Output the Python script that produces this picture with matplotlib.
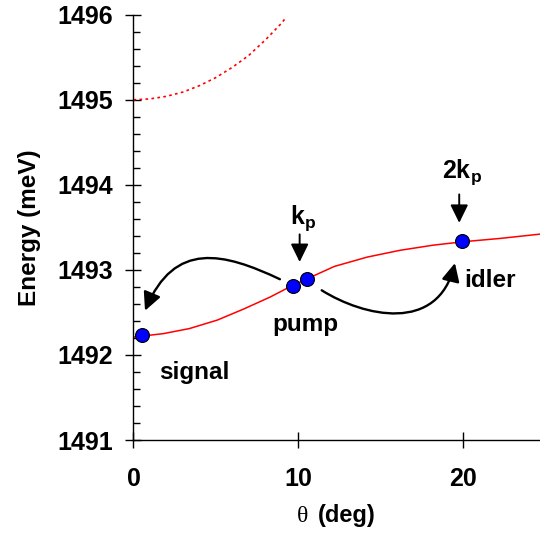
import matplotlib
matplotlib.use('Agg')
import matplotlib.pyplot as plt
from matplotlib.patches import FancyArrowPatch
from matplotlib.path import Path
from matplotlib.ticker import MultipleLocator

plt.rcParams['font.family'] = ['Liberation Sans', 'DejaVu Sans']
plt.rcParams['font.weight'] = 'bold'
plt.rcParams['mathtext.fontset'] = 'custom'
plt.rcParams['mathtext.bf'] = 'Liberation Sans:bold'
plt.rcParams['mathtext.rm'] = 'Liberation Sans:bold'

# lower branch (solid red)
theta_lp = [0, 1.8, 3.4, 5.1, 6.7, 8.3, 9.3, 10.5, 12.2, 14.2, 16.2, 18.2, 20, 22.3, 24.7]
energy_lp = [1492.21, 1492.25, 1492.31, 1492.41, 1492.54, 1492.68, 1492.78, 1492.89,
             1493.04, 1493.15, 1493.23, 1493.29, 1493.33, 1493.37, 1493.42]

# upper branch (dotted red)
theta_up = [0, 1, 2, 3, 4, 5, 6, 7, 8, 9, 9.2]
energy_up = [1495.0, 1495.01, 1495.04, 1495.09, 1495.165, 1495.26, 1495.38, 1495.52,
             1495.70, 1495.90, 1495.95]

# signal, pump (x2), idler
theta_pts = [0.53, 9.72, 10.53, 19.95]
energy_pts = [1492.23, 1492.81, 1492.89, 1493.34]

fig = plt.figure(figsize=(5.4, 5.36), dpi=100)
ax = fig.add_axes([0.2472, 0.1791, 0.7528, 0.7935])

ax.plot(theta_up, energy_up, color='red', lw=1.2, linestyle=(0, (1.6, 2.0)))
ax.plot(theta_lp, energy_lp, color='red', lw=1.1)
ax.plot(theta_pts, energy_pts, 'o', color='blue', mec='black', mew=0.8, ms=10, zorder=5)

ax.set_xlim(0, 24.71)
ax.set_ylim(1491, 1496)
ax.set_xticks([0, 10, 20])
ax.set_yticks([1491, 1492, 1493, 1494, 1495, 1496])
ax.yaxis.set_minor_locator(MultipleLocator(0.2))
ax.tick_params(axis='both', which='major', direction='inout', length=11, width=1.0, labelsize=18)
ax.tick_params(axis='x', pad=14)
ax.tick_params(axis='y', pad=9)
ax.tick_params(axis='y', which='minor', direction='in', length=5, width=1.0)
for s in ['top', 'right']:
    ax.spines[s].set_visible(False)
for s in ['left', 'bottom']:
    ax.spines[s].set_linewidth(1.0)
for lab in ax.get_xticklabels() + ax.get_yticklabels():
    lab.set_fontweight('bold')

ax.set_ylabel('Energy (meV)', fontsize=17.5, fontweight='bold', labelpad=12)
fig.text(297 / 540, 1 - 522 / 536, 'θ', fontsize=17, fontweight='normal',
         family=['Liberation Serif', 'DejaVu Serif'], ha='left', va='baseline')
fig.text(318 / 540, 1 - 522 / 536, '(deg)', fontsize=17, fontweight='bold',
         ha='left', va='baseline')

head = '-|>,head_length=0.55,head_width=0.27'

# curved arrows
left_path = Path([(8.9, 1492.89), (5.5, 1493.2), (2.5, 1493.35), (0.7, 1492.52)],
                 [Path.MOVETO, Path.CURVE4, Path.CURVE4, Path.CURVE4])
right_path = Path([(11.44, 1492.76), (14.0, 1492.45), (18.5, 1492.25), (19.54, 1493.08)],
                  [Path.MOVETO, Path.CURVE4, Path.CURVE4, Path.CURVE4])
for p in [left_path, right_path]:
    ax.add_patch(FancyArrowPatch(path=p, arrowstyle=head,
                                 mutation_scale=20, color='black', lw=1.7,
                                 transform=ax.transData))

# straight arrows
ax.annotate('', xy=(10.1, 1493.06), xytext=(10.1, 1493.45),
            arrowprops=dict(arrowstyle=head, mutation_scale=20, color='black', lw=1.4))
ax.annotate('', xy=(19.8, 1493.52), xytext=(19.8, 1493.92),
            arrowprops=dict(arrowstyle=head, mutation_scale=20, color='black', lw=1.4))

ax.text(10.3, 1493.61, r'$\mathbf{k_p}$', fontsize=18, ha='center', va='center')
ax.text(20.0, 1494.15, r'$\mathbf{2k_p}$', fontsize=18, ha='center', va='center')
ax.text(3.7, 1491.79, 'signal', fontsize=17.5, fontweight='bold', ha='center', va='center')
ax.text(10.43, 1492.36, 'pump', fontsize=17.5, fontweight='bold', ha='center', va='center')
ax.text(21.7, 1492.88, 'idler', fontsize=17.5, fontweight='bold', ha='center', va='center')

fig.savefig('out.png', dpi=100)
